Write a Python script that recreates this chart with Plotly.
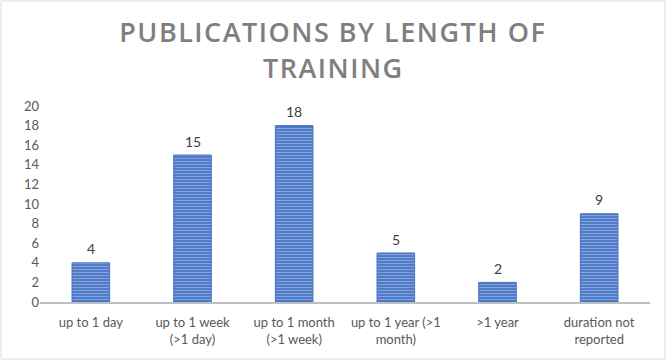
import plotly.graph_objects as go

categories = ["up to 1 day", "up to 1 week<br>(>1 day)", "up to 1 month<br>(>1 week)",
              "up to 1 year (>1<br>month)", ">1 year", "duration not<br>reported"]
values = [4, 15, 18, 5, 2, 9]
y_ticks = [0, 2, 4, 6, 8, 10, 12, 14, 16, 18, 20]
title_lines = ["PUBLICATIONS BY LENGTH OF", "TRAINING"]

FONT = "Lato, Open Sans, sans-serif"
TFONT = dict(family="Open Sans, sans-serif", size=27, color="#7F7F7F", weight=600)

fig = go.Figure()
fig.add_trace(go.Bar(
    x=categories, y=values, width=0.37,
    marker=dict(color="#4472C4",
                line=dict(color="#4472C4", width=1),
                pattern=dict(shape="-", fgcolor="#C5D4EE", bgcolor="#4472C4",
                             size=3, solidity=0.45, fillmode="overlay")),
))

annotations = [
    dict(text=title_lines[0], xref="paper", yref="paper", x=(333 - 40) / 610,
         y=(302 - 32) / 196, xanchor="center", yanchor="middle", showarrow=False, font=TFONT),
    dict(text=title_lines[1], xref="paper", yref="paper", x=(333 - 40) / 610,
         y=(302 - 68) / 196, xanchor="center", yanchor="middle", showarrow=False, font=TFONT),
]
for c, v in zip(categories, values):
    annotations.append(dict(text=str(v), x=c, y=v, xref="x", yref="y", showarrow=False,
                            yanchor="middle", yshift=14,
                            font=dict(family=FONT, size=14, color="#404040")))

fig.update_layout(
    width=666, height=360,
    margin=dict(l=40, r=16, t=106, b=58),
    paper_bgcolor="white", plot_bgcolor="white",
    showlegend=False,
    xaxis=dict(showline=True, linecolor="#BFBFBF", linewidth=2, ticks="",
               ticklabelstandoff=7,
               tickfont=dict(family=FONT, size=13, color="#595959")),
    yaxis=dict(range=[0, 20], tickvals=y_ticks, showgrid=False, zeroline=False,
               showline=False, ticks="",
               tickfont=dict(family=FONT, size=13, color="#595959")),
    annotations=annotations,
    shapes=[dict(type="rect", xref="paper", yref="paper", x0=-39/610, x1=1+15/610,
                 y0=-57/196, y1=1+105/196, line=dict(color="#D9D9D9", width=1))],
)

js = ("document.body.style.margin='0';document.body.style.overflow='hidden';"
      "document.querySelectorAll('.annotation-text').forEach(function(e){"
      "if(e.textContent.length>3){e.style.letterSpacing='1.5px';}});")
fig.write_html("out.html", config={"displayModeBar": False}, post_script=js)
